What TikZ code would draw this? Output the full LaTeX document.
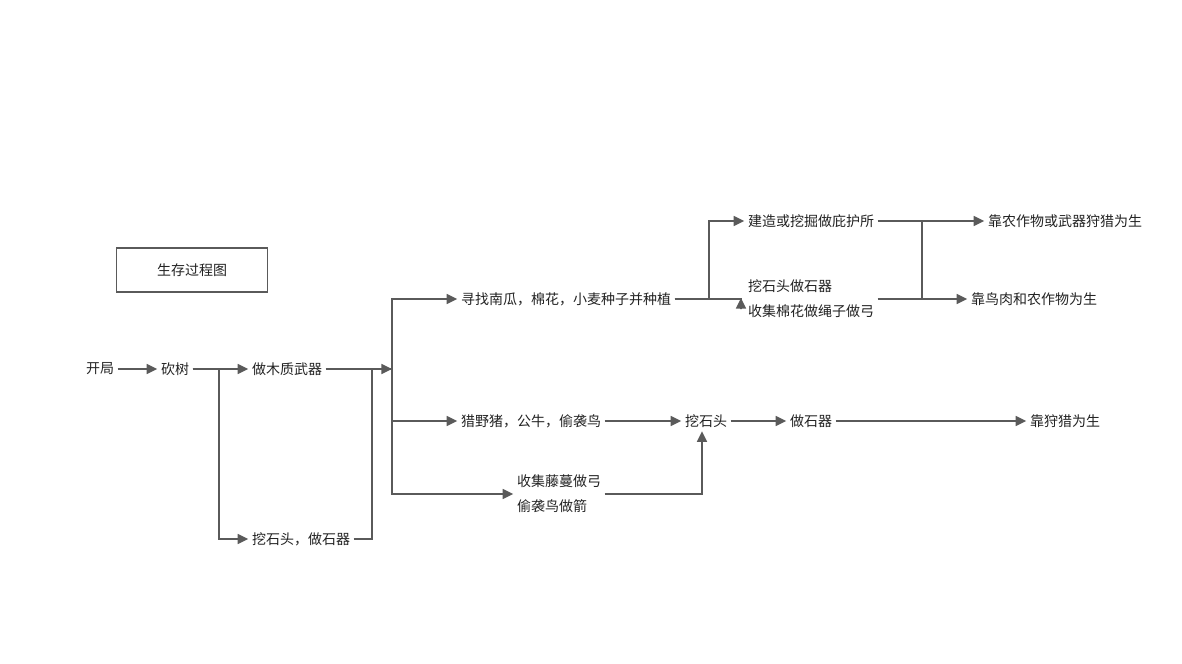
\documentclass[tikz,border=0pt]{standalone}
\usepackage{fontspec}
\newfontfamily\cjk{Noto Sans CJK SC}
\usepackage{xcolor}
\usepackage{tikz}
\usetikzlibrary{arrows.meta,positioning,calc}
\definecolor{edgegray}{HTML}{5A5A5A}
\definecolor{textdark}{HTML}{222222}
\tikzset{
  lbl/.style={font=\cjk\fontsize{10.5}{18.6}\selectfont, text=textdark, inner sep=2.6pt, align=left},
  arr/.style={draw=edgegray, line width=1.2pt, -{Triangle[length=8pt,width=7.5pt]}},
  ln/.style={draw=edgegray, line width=1.2pt},
}

\begin{document}
\begin{tikzpicture}[x=0.75pt,y=-0.75pt]
\useasboundingbox (0,0) rectangle (1182,664);

% Title box
\node[lbl, draw=edgegray, line width=1.2pt, minimum width=113pt, minimum height=33pt, align=center] (title) at (192,270) {生存过程图};

% Start chain
\node[lbl] (start)  at (100,369) {开局};
\node[lbl] (chop)   at (175,369) {砍树};
\node[lbl] (wood)   at (287,369) {做木质武器};
\node[lbl] (stone1) at (301,539) {挖石头，做石器};
\coordinate (j1) at (392,369);
\coordinate (j0) at (372,369);

% Branches after the junction
\node[lbl] (plant)  at (566,299) {寻找南瓜，棉花，小麦种子并种植};
\node[lbl] (hunt)   at (531,421) {猎野猪，公牛，偷袭鸟};
\node[lbl] (bow)    at (559,494) {收集藤蔓做弓\\偷袭鸟做箭};

% Upper row
\node[lbl] (shelter) at (811,221) {建造或挖掘做庇护所};
\node[lbl] (tools)   at (811,299) {挖石头做石器\\收集棉花做绳子做弓};
\node[lbl] (end1)    at (1065,221) {靠农作物或武器狩猎为生};
\node[lbl] (end2)    at (1034,299) {靠鸟肉和农作物为生};
\coordinate (j2) at (709,299);
\coordinate (j3) at (922,221);

% Middle row
\node[lbl] (stone2) at (706,421) {挖石头};
\node[lbl] (craft)  at (811,421) {做石器};
\node[lbl] (end3)   at (1065,421) {靠狩猎为生};

% Edges
\draw[arr] (start) -- (chop);
\draw[arr] (chop) -- (wood);
\draw[arr] (chop.east) -- ++(26,0) |- (stone1.west);
\draw[arr] (wood) -- (j1);
\draw[ln] (stone1.east) -| (j0) -- (j1);
\draw[arr] (j1) |- (plant.west);
\draw[arr] (j1) |- (hunt.west);
\draw[arr] (j1) |- (bow.west);

\draw[arr] (plant.east) -- (j2) |- (shelter.west);
\draw[arr] (plant.east) -- (741,299) -- (741,309) -- (741,298);
\draw[arr] (shelter.east) -- (end1.west);
\draw[ln] (j3) -- (j3 |- end2.west);
\draw[arr] (tools.east |- end2.west) -- (end2.west);

\draw[arr] (hunt) -- (stone2);
\draw[arr] (bow.east) -| ([xshift=-3pt]stone2.south);
\draw[arr] (stone2) -- (craft);
\draw[arr] (craft) -- (end3);

\end{tikzpicture}
\end{document}
